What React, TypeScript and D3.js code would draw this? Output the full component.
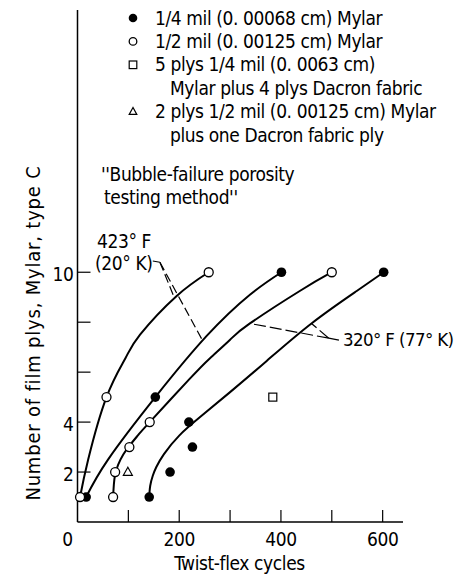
import React from 'react';
import * as d3 from 'd3';

const W = 460;
const H = 577;

// axis ticks
const xTickValues = [100, 200, 300, 400, 500, 600];
const xTickLabels = [0, 200, 400, 600];
const yTickValues = [2, 4, 6, 8, 10];
const yTickLabels = [2, 4, 10];

// data points [twist-flex cycles, number of plys]
const quarterMil = [[17, 1], [153, 5], [401, 10], [141, 1], [182, 2], [219, 4], [226, 3], [602, 10]];
const halfMil = [[5, 1], [57, 5], [258, 10], [70, 1], [74, 2], [102, 3], [142, 4], [500, 10]];
const fivePlys = [[384, 5]];
const twoPlys = [[99, 2]];

// faired curves
const curve20Half = [[5, 1], [21, 2.5], [57, 5], [94, 6.55], [123, 7.5], [195, 9.05], [258, 10]];
const curve20Quarter = [[17, 1], [60, 2.5], [153, 5], [254, 7.45], [339, 9.1], [401, 10]];
const curve77Half = [[70, 1], [71.5, 1.5], [74, 1.9], [80, 2.3], [90, 2.7], [102, 3.05], [120, 3.5], [142, 4], [220, 5.72], [260, 6.55], [300, 7.3], [339, 7.95], [437, 9.25], [500, 10]];
const curve77Quarter = [[141, 1], [143, 1.45], [148, 1.85], [155, 2.2], [170, 2.72], [200, 3.46], [241, 4.2], [300, 5.2], [372, 6.45], [460, 7.95], [549, 9.25], [602, 10]];

// leader lines
const leader20Stub = [[148, 10.45], [162, 10.4]];
const leader20Targets = [[190, 9.0], [245, 7.3]];
const leader77Stub = [[514, 7.28], [494, 7.36]];
const leader77Targets = [[339, 7.95], [460, 7.95]];

const legendItems = [
  { sym: 'filled', lines: ['1/4 mil (0. 00068 cm) Mylar'] },
  { sym: 'open', lines: ['1/2 mil (0. 00125 cm) Mylar'] },
  { sym: 'square', lines: ['5 plys 1/4 mil (0. 0063 cm)', 'Mylar plus 4 plys Dacron fabric'] },
  { sym: 'triangle', lines: ['2 plys 1/2 mil (0. 00125 cm) Mylar', 'plus one Dacron fabric ply'] },
];

const FONT = "'DejaVu Sans Condensed', 'Liberation Sans Narrow', sans-serif";

function Marker({ sym, cx, cy, r }: { sym: string; cx: number; cy: number; r: number }) {
  if (sym === 'filled') return <circle cx={cx} cy={cy} r={r} fill="#000" />;
  if (sym === 'open') return <circle cx={cx} cy={cy} r={r} fill="#fff" stroke="#000" strokeWidth={1.3} />;
  if (sym === 'square')
    return <rect x={cx - r} y={cy - r} width={2 * r} height={2 * r} fill="#fff" stroke="#000" strokeWidth={1.2} />;
  const h = r * 1.8;
  const pts = [[cx, cy - h * 0.6], [cx - r, cy + h * 0.4], [cx + r, cy + h * 0.4]];
  return <polygon points={pts.map((p) => p.join(',')).join(' ')} fill="#fff" stroke="#000" strokeWidth={1.2} />;
}

export default function App() {
  const x = d3.scaleLinear().domain([0, 640]).range([77.5, 403]);
  const y = d3.scaleLinear().domain([0, 20.5]).range([522, 10]);

  const line = d3
    .line<number[]>()
    .x((d) => x(d[0]))
    .y((d) => y(d[1]))
    .curve(d3.curveNatural);
  const straight = d3
    .line<number[]>()
    .x((d) => x(d[0]))
    .y((d) => y(d[1]));

  const curves = [curve20Half, curve20Quarter, curve77Half, curve77Quarter];

  const legendX = 133;
  const textX = 155;
  const rowH = 23.4;
  let row = 0;
  const ts = { fontSize: 19, letterSpacing: -0.4 } as const;

  return (
    <svg width={W} height={H} style={{ display: 'block', position: 'absolute', left: 0, top: 0 }} fontFamily={FONT}>
      <rect x={0} y={0} width={W} height={H} fill="#fff" />
      {/* axes */}
      <line x1={x(0)} x2={x(0)} y1={y(20.5)} y2={y(0)} stroke="#000" strokeWidth={1.5} />
      <line x1={x(0)} x2={x(640)} y1={y(0)} y2={y(0)} stroke="#000" strokeWidth={1.5} />
      {xTickValues.map((v) => (
        <line key={'xt' + v} x1={x(v)} x2={x(v)} y1={y(0)} y2={y(0) - 12} stroke="#000" strokeWidth={1.2} />
      ))}
      {yTickValues.map((v) => (
        <line key={'yt' + v} x1={x(0)} x2={x(0) + 13} y1={y(v)} y2={y(v)} stroke="#000" strokeWidth={1.2} />
      ))}
      {xTickLabels.map((v) => (
        <text key={'xl' + v} x={v === 0 ? x(0) - 10 : x(v)} y={y(0) + 17} textAnchor="middle" dy="0.35em" {...ts}>
          {v}
        </text>
      ))}
      {yTickLabels.map((v) => (
        <text key={'yl' + v} x={x(0) - 4} y={y(v) + 2} textAnchor="end" dy="0.35em" {...ts}>
          {v}
        </text>
      ))}
      <text x={239.5} y={563} textAnchor="middle" dy="0.35em" {...ts}>
        Twist-flex cycles
      </text>
      <text transform={`translate(33,333) rotate(-90)`} textAnchor="middle" dy="0.35em" fontSize={20} letterSpacing={0.8}>
        Number of film plys, Mylar, type C
      </text>

      {/* curves */}
      {curves.map((c, i) => (
        <path key={'c' + i} d={line(c) || ''} fill="none" stroke="#000" strokeWidth={2} />
      ))}

      {/* leaders */}
      <path d={straight(leader20Stub) || ''} fill="none" stroke="#000" strokeWidth={1.2} />
      {leader20Targets.map((t, i) => (
        <path key={'l20' + i} d={straight([leader20Stub[1], t]) || ''} fill="none" stroke="#000" strokeWidth={1.2} strokeDasharray="9,4" />
      ))}
      <path d={straight(leader77Stub) || ''} fill="none" stroke="#000" strokeWidth={1.2} />
      {leader77Targets.map((t, i) => (
        <path key={'l77' + i} d={straight([leader77Stub[1], t]) || ''} fill="none" stroke="#000" strokeWidth={1.2} strokeDasharray="12,4" />
      ))}

      {/* points */}
      {quarterMil.map((d, i) => (
        <Marker key={'q' + i} sym="filled" cx={x(d[0])} cy={y(d[1])} r={4.8} />
      ))}
      {halfMil.map((d, i) => (
        <Marker key={'h' + i} sym="open" cx={x(d[0])} cy={y(d[1])} r={4.5} />
      ))}
      {fivePlys.map((d, i) => (
        <Marker key={'f' + i} sym="square" cx={x(d[0])} cy={y(d[1])} r={4} />
      ))}
      {twoPlys.map((d, i) => (
        <Marker key={'t' + i} sym="triangle" cx={x(d[0])} cy={y(d[1])} r={4.5} />
      ))}

      {/* annotations */}
      <text x={97} y={241} dy="0.35em" {...ts}>423° F</text>
      <text x={95} y={263} dy="0.35em" {...ts}>(20° K)</text>
      <text x={343} y={340} dy="0.35em" fontSize={18.5} letterSpacing={-0.6}>320° F (77° K)</text>
      <text x={101} y={174} dy="0.35em" {...ts}>''Bubble-failure porosity</text>
      <text x={104} y={197} dy="0.35em" {...ts}>testing method''</text>

      {/* legend */}
      {legendItems.map((it, i) => {
        const r0 = row;
        row += it.lines.length;
        return (
          <g key={'lg' + i}>
            <Marker sym={it.sym} cx={legendX} cy={18 + r0 * rowH} r={it.sym === 'filled' ? 4.3 : 3.8} />
            {it.lines.map((t, j) => (
              <text key={j} x={j === 0 ? textX : textX + 15} y={18 + (r0 + j) * rowH} dy="0.35em" {...ts}>
                {t}
              </text>
            ))}
          </g>
        );
      })}
    </svg>
  );
}
